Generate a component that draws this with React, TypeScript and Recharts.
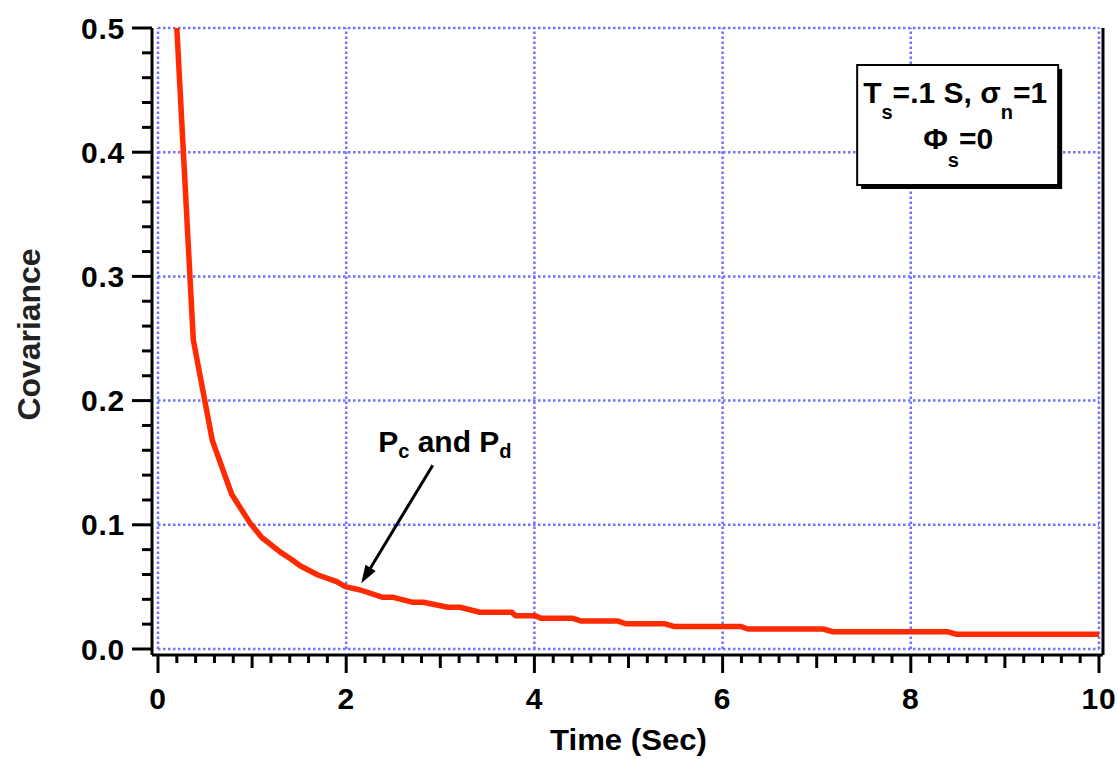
import React from 'react';
import { LineChart, Line, XAxis, YAxis, ReferenceLine, ReferenceDot, Label } from 'recharts';

// ---- data ----
const timeSec = [
  0.2, 0.375, 0.577, 0.783, 0.978, 1.1, 1.3, 1.42, 1.51, 1.7, 1.9, 1.99, 2.15, 2.39, 2.5,
  2.71, 2.82, 3.08, 3.21, 3.42, 3.76, 3.8, 4.01, 4.07, 4.41, 4.5, 4.89, 4.97, 5.39, 5.48,
  6.19, 6.27, 7.07, 7.17, 8.39, 8.49, 10,
];
const covariance = [
  0.5, 0.249, 0.168, 0.1246, 0.1014, 0.09, 0.078, 0.072, 0.067, 0.0596, 0.0542, 0.0502, 0.0475, 0.0416, 0.0416,
  0.0376, 0.0376, 0.0336, 0.0336, 0.0296, 0.0296, 0.0268, 0.0268, 0.0247, 0.0247, 0.0225, 0.0225, 0.0203, 0.0203, 0.0182,
  0.0182, 0.0161, 0.0161, 0.0139, 0.0139, 0.0118, 0.0118,
];

const xMajorTicks = [0, 2, 4, 6, 8, 10];
const xGridTicks = [0, 2, 4, 6, 8, 10];
const xAllTicks = [
  0, 0.2, 0.4, 0.6, 0.8, 1, 1.2, 1.4, 1.6, 1.8, 2, 2.2, 2.4, 2.6, 2.8, 3, 3.2, 3.4, 3.6, 3.8,
  4, 4.2, 4.4, 4.6, 4.8, 5, 5.2, 5.4, 5.6, 5.8, 6, 6.2, 6.4, 6.6, 6.8, 7, 7.2, 7.4, 7.6, 7.8,
  8, 8.2, 8.4, 8.6, 8.8, 9, 9.2, 9.4, 9.6, 9.8, 10,
];
const yMajorTicks = [0, 0.1, 0.2, 0.3, 0.4, 0.5];
const yGridTicks = [0, 0.1, 0.2, 0.3, 0.4, 0.5];
const yAllTicks = [
  0, 0.02, 0.04, 0.06, 0.08, 0.1, 0.12, 0.14, 0.16, 0.18, 0.2, 0.22, 0.24, 0.26, 0.28,
  0.3, 0.32, 0.34, 0.36, 0.38, 0.4, 0.42, 0.44, 0.46, 0.48, 0.5,
];
const yLabels = ['0.0', '0.1', '0.2', '0.3', '0.4', '0.5'];
const xLabels = ['0', '2', '4', '6', '8', '10'];

const xTitle = 'Time (Sec)';
const yTitle = 'Covariance';
const annotationAnchor = { t: 2.34, v: 0.159 };
const arrowFrom = { t: 2.92, v: 0.148 };
const arrowTo = { t: 2.16, v: 0.053 };
const legendAnchor = { t: 7.43, v: 0.4702 };

const data = timeSec.map((t, i) => ({ t, v: covariance[i] }));

const FONT = '"Liberation Sans", Arial, Helvetica, sans-serif';
const GRID = '#7272ff';
const RED = '#ff2a00';

const near = (a: number, b: number) => Math.abs(a - b) < 1e-6;

function XTick(props: any) {
  const { x, y, payload } = props;
  const v = payload.value as number;
  const r = Math.round(v);
  const isInt = near(v, r);
  const idx = xMajorTicks.findIndex((m) => near(m, v));
  const len = idx >= 0 ? 18 : isInt ? 13 : 8;
  return (
    <g>
      <line x1={x} x2={x} y1={y} y2={y + len} stroke="#000" strokeWidth={3} />
      {idx >= 0 && (
        <text x={x} y={y + 54} textAnchor="middle" fontFamily={FONT} fontWeight="bold" fontSize={30} letterSpacing={0.8} fill="#000">
          {xLabels[idx]}
        </text>
      )}
    </g>
  );
}

function YTick(props: any) {
  const { x, y, payload } = props;
  const v = payload.value as number;
  const idx = yMajorTicks.findIndex((m) => near(m, v));
  const len = idx >= 0 ? 20 : 10;
  return (
    <g>
      <line x1={x - len} x2={x} y1={y} y2={y} stroke="#000" strokeWidth={3} />
      {idx >= 0 && (
        <text x={x - 27} y={y + 10.5} textAnchor="end" fontFamily={FONT} fontWeight="bold" fontSize={30} letterSpacing={0.8} fill="#000">
          {yLabels[idx]}
        </text>
      )}
    </g>
  );
}

function RightTick(props: any) {
  const { x, y } = props;
  return <line x1={x} x2={x + 10} y1={y} y2={y} stroke="#000" strokeWidth={3} />;
}

function XTitle(props: any) {
  const vb = props.viewBox || { x: 152, y: 655, width: 951, height: 104 };
  return (
    <text
      x={vb.x + vb.width / 2 + 1}
      y={vb.y + 95}
      textAnchor="middle"
      fontFamily={FONT}
      fontWeight="bold"
      fontSize={30}
      textLength={157}
      lengthAdjust="spacingAndGlyphs"
      fill="#000"
    >
      {xTitle}
    </text>
  );
}

function YTitle(props: any) {
  const vb = props.viewBox || { x: 0, y: 28, width: 152, height: 627 };
  const cx = 29;
  const cy = vb.y + vb.height / 2 - 7;
  return (
    <text
      x={cx}
      y={cy}
      transform={`rotate(-90 ${cx} ${cy})`}
      dy={11}
      textAnchor="middle"
      fontFamily={FONT}
      fontWeight="bold"
      fontSize={32}
      textLength={172}
      lengthAdjust="spacingAndGlyphs"
      fill="#222"
    >
      {yTitle}
    </text>
  );
}

function ArrowShape(props: any) {
  const { x1, y1, x2, y2 } = props;
  const dx = x2 - x1;
  const dy = y2 - y1;
  const L = Math.hypot(dx, dy) || 1;
  const ux = dx / L;
  const uy = dy / L;
  const head = 18;
  const hw = 6;
  const bx = x2 - ux * head;
  const by = y2 - uy * head;
  const px = -uy;
  const py = ux;
  return (
    <g>
      <line x1={x1} y1={y1} x2={bx + ux * 2} y2={by + uy * 2} stroke="#000" strokeWidth={3} />
      <polygon points={`${x2},${y2} ${bx + px * hw},${by + py * hw} ${bx - px * hw},${by - py * hw}`} fill="#000" />
    </g>
  );
}

function AnnotationShape(props: any) {
  const { cx, cy } = props;
  return (
    <text x={cx} y={cy} fontFamily={FONT} fontWeight="bold" fontSize={30} fill="#000">
      P<tspan fontSize={20} dy={6}>c</tspan>
      <tspan dy={-6}> and P</tspan>
      <tspan fontSize={20} dy={6}>d</tspan>
    </text>
  );
}

function LegendShape(props: any) {
  const { cx, cy } = props;
  const w = 201;
  const h = 120;
  return (
    <g>
      <rect x={cx + 4} y={cy + 4} width={w} height={h} fill="#000" />
      <rect x={cx} y={cy} width={w} height={h} fill="#fff" stroke="#000" strokeWidth={2} />
      <text x={cx + 6} y={cy + 38} fontFamily={FONT} fontWeight="bold" fontSize={30} fill="#000">
        T<tspan fontSize={20} dy={16}>s</tspan>
        <tspan dy={-16}>=.1 S, σ</tspan>
        <tspan fontSize={20} dy={16}>n</tspan>
        <tspan dy={-16}>=1</tspan>
      </text>
      <text x={cx + 66} y={cy + 84} fontFamily={FONT} fontWeight="bold" fontSize={30} fill="#000">
        Φ<tspan fontSize={20} dy={18}>s</tspan>
        <tspan dy={-18}>=0</tspan>
      </text>
    </g>
  );
}

export default function App() {
  return (
    <div style={{ position: 'absolute', left: 0, top: 0, background: '#fff' }}>
      <LineChart width={1118} height={759} data={data} margin={{ top: 28, right: 0, bottom: 0, left: 0 }}>
        <XAxis
          type="number"
          dataKey="t"
          domain={[0, 10]}
          ticks={xAllTicks}
          interval={0}
          padding={{ left: 6, right: 4 }}
          height={104}
          tickSize={0}
          tickMargin={0}
          tickLine={false}
          axisLine={{ stroke: '#000', strokeWidth: 3 }}
          tick={(p: any) => <XTick {...p} />}
        >
          <Label content={(p: any) => <XTitle {...p} />} />
        </XAxis>
        <YAxis
          yAxisId="left"
          type="number"
          domain={[0, 0.5]}
          ticks={yAllTicks}
          interval={0}
          padding={{ top: 0, bottom: 6 }}
          width={152}
          tickSize={0}
          tickMargin={0}
          tickLine={false}
          axisLine={{ stroke: '#000', strokeWidth: 3 }}
          tick={(p: any) => <YTick {...p} />}
        >
          <Label content={(p: any) => <YTitle {...p} />} />
        </YAxis>
        <YAxis
          yAxisId="right"
          orientation="right"
          type="number"
          domain={[0, 0.5]}
          ticks={yAllTicks}
          interval={0}
          padding={{ top: 0, bottom: 6 }}
          width={15}
          tickSize={0}
          tickMargin={0}
          tickLine={false}
          axisLine={{ stroke: '#000', strokeWidth: 3 }}
          tick={(p: any) => <RightTick {...p} />}
        />
        {yGridTicks.map((y) => (
          <ReferenceLine
            key={'h' + y}
            yAxisId="left"
            segment={[{ x: 0, y }, { x: 10, y }]}
            stroke={GRID}
            strokeWidth={2.5}
            strokeDasharray="2.5 2.5"
          />
        ))}
        {xGridTicks.map((x) => (
          <ReferenceLine
            key={'v' + x}
            yAxisId="left"
            segment={[{ x, y: 0 }, { x, y: 0.5 }]}
            stroke={GRID}
            strokeWidth={2.5}
            strokeDasharray="2.5 2.5"
          />
        ))}
        <Line
          yAxisId="left"
          type="linear"
          dataKey="v"
          stroke={RED}
          strokeWidth={5.5}
          strokeLinejoin="round"
          dot={false}
          activeDot={false}
          isAnimationActive={false}
        />
        <ReferenceLine
          yAxisId="left"
          segment={[{ x: arrowFrom.t, y: arrowFrom.v }, { x: arrowTo.t, y: arrowTo.v }]}
          shape={(p: any) => <ArrowShape {...p} />}
        />
        <ReferenceDot
          yAxisId="left"
          x={annotationAnchor.t}
          y={annotationAnchor.v}
          r={1}
          shape={(p: any) => <AnnotationShape {...p} />}
        />
        <ReferenceDot
          yAxisId="left"
          x={legendAnchor.t}
          y={legendAnchor.v}
          r={1}
          shape={(p: any) => <LegendShape {...p} />}
        />
      </LineChart>
    </div>
  );
}
